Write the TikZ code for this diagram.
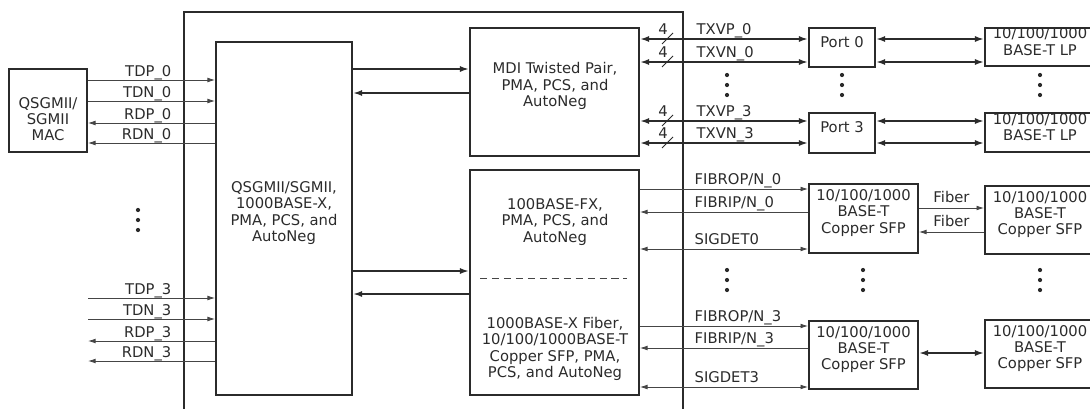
\documentclass[tikz,border=0pt]{standalone}
\usepackage{fontspec}
\setmainfont{DejaVu Sans}
\usetikzlibrary{arrows.meta,positioning,calc,fit}
\definecolor{ink}{HTML}{2B2B2B}
\definecolor{wire}{HTML}{454545}

\tikzset{
  blk/.style={draw=ink,line width=1.3pt,inner sep=0pt,align=center,text=ink},
  sig/.style={draw=wire,line width=0.6pt,>={Latex[length=5.4pt,width=3.4pt]}},
  bus/.style={draw=ink,line width=1.4pt,>={Latex[length=6.6pt,width=4.4pt]}},
  lab/.style={text=ink,inner sep=0pt},
  fwd/.style={->},
  bwd/.style={<-},
  both/.style={<->}
}
\newcommand{\vdotsat}[2]{\foreach \d in {-10,0,10} \fill[ink] (#1,#2+\d) circle (1.5pt);}

\begin{document}
\begin{tikzpicture}[x=0.025cm,y=-0.025cm,font=\fontsize{10.5}{11.6}\selectfont]
  \useasboundingbox (0,0) rectangle (1090,408);
  % blocks
  \node[blk,line width=2pt,fit={(184,12) (683,430)}] (chip) {};
  \node[blk,fit={(9,69) (87,152)}] (mac) {};
  \node[lab,align=center] (mactxt) at (48,119) {QSGMII/\\SGMII\\MAC};
  \node[blk,fit={(216,42) (352,395)}] (main) {QSGMII/SGMII,\\1000BASE-X,\\PMA, PCS, and\\AutoNeg};
  \node[blk,fit={(470,28) (639,156)}] (mdi) {};
  \node[lab,align=center] (mditxt) at (555,86) {MDI Twisted Pair,\\PMA, PCS, and\\AutoNeg};
  \node[blk,fit={(470,170) (639,395)}] (fx) {};
  \node[lab,align=center] (fxtop) at (555,222) {100BASE-FX,\\PMA, PCS, and\\AutoNeg};
  \node[lab,align=center] (fxbot) at (555,349) {1000BASE-X Fiber,\\10/100/1000BASE-T\\Copper SFP, PMA,\\PCS, and AutoNeg};
  \draw[wire,line width=0.7pt,dash pattern=on 5pt off 3.5pt] (480,278) -- (627,278);
  \node[blk,fit={(809,28) (875,67)}] (port0) {Port 0};
  \node[blk,fit={(809,113) (875,153)}] (port3) {Port 3};
  \node[blk,fit={(985,28) (1095,66)}] (lp0) {10/100/1000\\BASE-T LP};
  \node[blk,fit={(985,113) (1095,152)}] (lp3) {10/100/1000\\BASE-T LP};
  \node[blk,fit={(809,184) (918,253)}] (sfp0) {10/100/1000\\BASE-T\\Copper SFP};
  \node[blk,fit={(809,321) (918,389)}] (sfp3) {10/100/1000\\BASE-T\\Copper SFP};
  \node[blk,fit={(985,186) (1095,254)}] (rsfp0) {10/100/1000\\BASE-T\\Copper SFP};
  \node[blk,fit={(985,320) (1095,388)}] (rsfp3) {10/100/1000\\BASE-T\\Copper SFP};

  % MAC side, lane 0
  \foreach \lab/\y/\tip in {TDP\_0/80/fwd,TDN\_0/101/fwd,RDP\_0/123/bwd,RDN\_0/143/bwd} {
    \coordinate (w\y) at (0,\y);
    \draw[sig,\tip] (mac.east |- w\y) -- (main.west |- w\y);
    \node[lab,anchor=base east] (n\y) at ($(chip.west |- w\y)+(-11,-4)$) {\lab};
  }
  % MAC side, lane 3
  \foreach \lab/\y/\tip in {TDP\_3/298/fwd,TDN\_3/319/fwd,RDP\_3/341/bwd,RDN\_3/361/bwd} {
    \coordinate (e\y) at (88,\y);
    \draw[sig,\tip] (e\y) -- (main.west |- e\y);
    \node[lab,anchor=base east] (n\y) at ($(chip.west |- e\y)+(-11,-4)$) {\lab};
  }
  \vdotsat{138}{220}

  % internal buses
  \foreach \y/\b/\tip in {69/mdi/fwd,93/mdi/bwd,271/fx/fwd,294/fx/bwd} {
    \coordinate (w\y) at (0,\y);
    \draw[bus,\tip] (main.east |- w\y) -- (\b.west |- w\y);
  }

  % twisted pair
  \foreach \lab/\y/\p/\l in {TXVP\_0/39/port0/lp0,TXVN\_0/62/port0/lp0,TXVP\_3/121/port3/lp3,TXVN\_3/143/port3/lp3} {
    \coordinate (w\y) at (0,\y);
    \draw[bus,<->] (mdi.east |- w\y) -- (\p.west |- w\y);
    \draw[bus,<->] (\p.east |- w\y) -- (\l.west |- w\y);
    \draw[ink,line width=0.7pt] (662,\y+5) -- (673,\y-6);
    \node[lab] (b\y) at (663,\y-10) {4};
    \node[lab,anchor=base west] (t\y) at ($(chip.east |- w\y)+(12,-5)$) {\lab};
  }
  \vdotsat{727}{85}
  \vdotsat{842}{85}
  \vdotsat{1040}{85}

  % fiber / SFP
  \foreach \lab/\y/\s/\tip in {{FIBROP/N\_0}/189/sfp0/fwd,{FIBRIP/N\_0}/212/sfp0/bwd,SIGDET0/249/sfp0/both,
      {FIBROP/N\_3}/326/sfp3/fwd,{FIBRIP/N\_3}/348/sfp3/bwd,SIGDET3/387/sfp3/both} {
    \coordinate (w\y) at (0,\y);
    \draw[sig,\tip] (fx.east |- w\y) -- (\s.west |- w\y);
    \node[lab,anchor=base west] (t\y) at ($(chip.east |- w\y)+(10,-5)$) {\lab};
  }
  \coordinate (w208) at (0,208);
  \coordinate (w232) at (0,232);
  \coordinate (w353) at (0,353);
  \draw[sig,->] (sfp0.east |- w208) -- node[lab,above=0.11cm] (f1) {Fiber} (rsfp0.west |- w208);
  \draw[sig,<-] (sfp0.east |- w232) -- node[lab,above=0.11cm] (f2) {Fiber} (rsfp0.west |- w232);
  \draw[bus,<->] (sfp3.east |- w353) -- (rsfp3.west |- w353);
  \vdotsat{727}{280}
  \vdotsat{863}{280}
  \vdotsat{1040}{280}
\end{tikzpicture}
\end{document}
